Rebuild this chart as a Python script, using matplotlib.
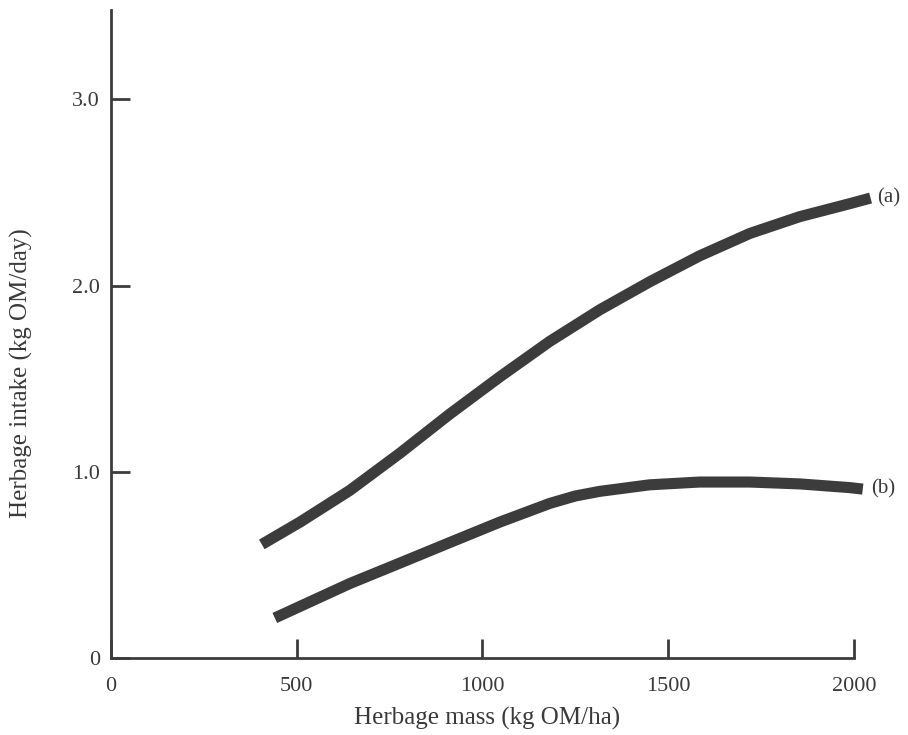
import matplotlib
matplotlib.use("Agg")
import matplotlib.pyplot as plt

# Herbage intake vs herbage mass, two response curves
mass_a = [406, 509, 643, 778, 912, 1047, 1181, 1316, 1450, 1585, 1720, 1854, 1989, 2045]
intake_a = [0.61, 0.73, 0.90, 1.10, 1.31, 1.51, 1.70, 1.87, 2.02, 2.16, 2.28, 2.37, 2.44, 2.47]

mass_b = [441, 643, 778, 912, 1047, 1181, 1250, 1316, 1450, 1585, 1720, 1854, 1989, 2024]
intake_b = [0.215, 0.40, 0.51, 0.62, 0.73, 0.83, 0.87, 0.895, 0.93, 0.945, 0.945, 0.935, 0.915, 0.907]

x_ticks = [0, 500, 1000, 1500, 2000]
x_tick_labels = ["0", "500", "1000", "1500", "2000"]
y_ticks = [0, 1.0, 2.0, 3.0]
y_tick_labels = ["0", "1.0", "2.0", "3.0"]

ink = "#3c3c3c"
text_ink = "#3a3a3a"
plt.rcParams["font.family"] = ["Liberation Serif", "DejaVu Serif"]

fig = plt.figure(figsize=(9.08, 7.35), dpi=100)
ax = fig.add_axes([111 / 908, 77 / 735, 780 / 908, 648 / 735])

ax.plot(mass_a, intake_a, color=ink, lw=8, solid_capstyle="butt", solid_joinstyle="round")
ax.plot(mass_b, intake_b, color=ink, lw=8, solid_capstyle="butt", solid_joinstyle="round")

ax.text(mass_a[-1] + 18, intake_a[-1], "(a)", fontsize=15, color=text_ink, va="center", ha="left")
ax.text(mass_b[-1] + 22, intake_b[-1], "(b)", fontsize=15, color=text_ink, va="center", ha="left")

ax.set_xlim(0, 2100)
ax.set_ylim(0, 3.48)

for side in ("top", "right"):
    ax.spines[side].set_visible(False)
ax.spines["bottom"].set_bounds(0, 2000)
for side in ("left", "bottom"):
    ax.spines[side].set_color(ink)
    ax.spines[side].set_linewidth(2)

ax.set_xticks(x_ticks)
ax.set_xticklabels(x_tick_labels)
ax.set_yticks(y_ticks)
ax.set_yticklabels(y_tick_labels)
ax.tick_params(direction="in", length=14, width=2, color=ink, labelcolor=text_ink, labelsize=16)
ax.tick_params(axis="x", pad=14)
ax.tick_params(axis="y", pad=8)

ax.set_xlabel("Herbage mass (kg OM/ha)", fontsize=18, color=text_ink)
ax.xaxis.set_label_coords(1012 / 2100, -0.075)
ax.set_ylabel("Herbage intake (kg OM/day)", fontsize=18, color=text_ink)
ax.yaxis.set_label_coords(-0.1, (658 - 373) / 648)

fig.savefig("out.png", dpi=100)
